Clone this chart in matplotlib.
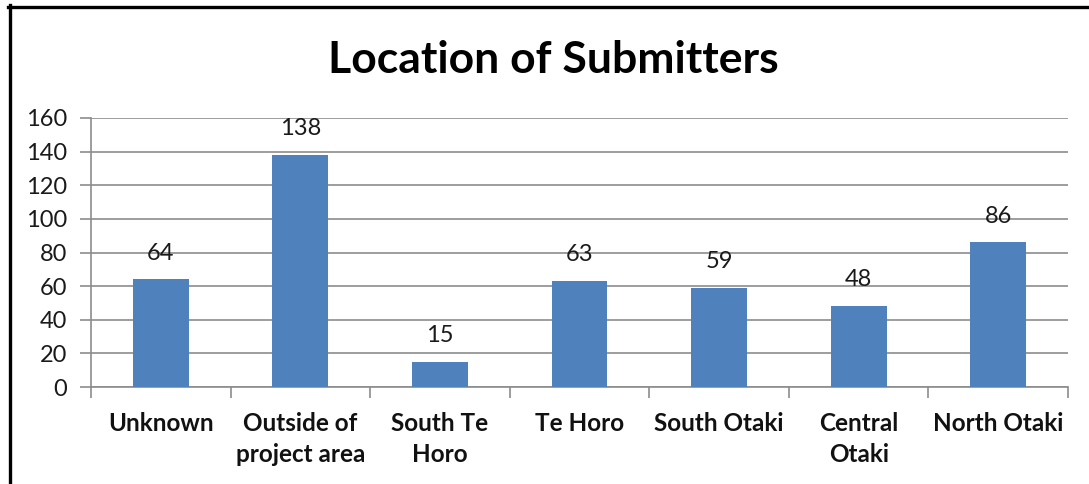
import matplotlib
matplotlib.use("Agg")
import matplotlib.pyplot as plt
from matplotlib.lines import Line2D

categories = ["Unknown", "Outside of\nproject area", "South Te\nHoro", "Te Horo",
              "South Otaki", "Central\nOtaki", "North Otaki"]
values = [64, 138, 15, 63, 59, 48, 86]
yticks = [0, 20, 40, 60, 80, 100, 120, 140, 160]
title = "Location of Submitters"

W, H = 1089, 484
fig = plt.figure(figsize=(W / 100, H / 100), dpi=100)
ax = fig.add_axes([91 / W, 1 - 387 / H, (1068 - 91) / W, (387 - 118) / H])

bar_color = "#4F81BD"
grid_color = "#8C8C8C"
font = "Lato"

x = list(range(len(categories)))
ax.bar(x, values, width=0.4, color=bar_color, zorder=3)
ax.set_xlim(-0.5, len(categories) - 0.5)
ax.set_ylim(0, 160)
ax.set_yticks(yticks)
ax.set_yticklabels([str(t) for t in yticks], fontfamily=font, fontsize=17, color="#1a1a1a")
ax.yaxis.grid(True, color=grid_color, linewidth=1.2, zorder=0)
ax.tick_params(axis="y", length=8, width=1.2, color=grid_color, pad=9)

# x ticks at category boundaries, labels at centers
ax.set_xticks([i - 0.5 for i in range(len(categories) + 1)])
ax.set_xticklabels([])
ax.set_xticks(x, minor=True)
ax.set_xticklabels(categories, minor=True, fontfamily=font, fontsize=17.5,
                   fontweight="bold", linespacing=1.4, color="#111111")
ax.tick_params(axis="x", which="major", length=8, width=1.2, color=grid_color)
ax.tick_params(axis="x", which="minor", length=0, pad=18)

for side in ["top", "right"]:
    ax.spines[side].set_visible(False)
for side in ["left", "bottom"]:
    ax.spines[side].set_color(grid_color)
    ax.spines[side].set_linewidth(1.2)

for xi, v in zip(x, values):
    ax.annotate(str(v), (xi, v), xytext=(0, 19), textcoords="offset points",
                ha="center", va="center", fontfamily=font, fontsize=17, color="#1a1a1a")

fig.text(553 / W, 1 - 60 / H, title, ha="center", va="center",
         fontfamily=font, fontsize=32, fontweight="bold", color="black")

# chart frame (left and top borders visible)
fig.add_artist(Line2D([9.5 / W, 9.5 / W], [0, 1 - 5 / H], transform=fig.transFigure,
                      color="black", linewidth=2.4))
fig.add_artist(Line2D([8 / W, 1], [1 - 6.5 / H, 1 - 6.5 / H], transform=fig.transFigure,
                      color="black", linewidth=2.4))

fig.savefig("out.png", dpi=100)
